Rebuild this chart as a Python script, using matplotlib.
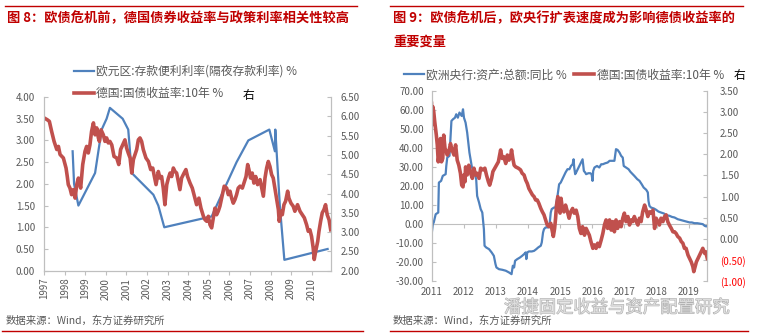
import matplotlib
matplotlib.use("Agg")
import matplotlib.pyplot as plt
import matplotlib.patheffects as pe
from matplotlib.lines import Line2D
from matplotlib.ticker import FuncFormatter, MultipleLocator

plt.rcParams['font.family'] = ['Noto Sans CJK SC', 'DejaVu Sans']
plt.rcParams['axes.unicode_minus'] = False

# ---- figure 8 data (decimal years) ----
depo_t = [1998.39, 1998.46, 1998.67, 1999.48, 1999.80, 2000.04, 2000.20, 2000.82,
          2001.09, 2001.26, 2002.31, 2002.55, 2002.84, 2005.14, 2006.35, 2006.92,
          2007.94, 2008.21, 2008.23, 2008.45, 2008.67, 2010.77]
depo_v = [2.75, 2.00, 1.50, 2.25, 3.25, 3.50, 3.75, 3.50,
          3.25, 2.25, 1.75, 1.50, 1.00, 1.25, 2.50, 3.00,
          3.25, 2.75, 3.25, 1.50, 0.25, 0.50]

bund_t = [1997.00, 1997.16, 1997.26, 1997.37, 1997.49, 1997.62, 1997.70, 1997.78, 1997.94, 1998.07,
          1998.13, 1998.18, 1998.26, 1998.34, 1998.42, 1998.51, 1998.59, 1998.67, 1998.78, 1998.88,
          1998.99, 1999.07, 1999.15, 1999.23, 1999.31, 1999.40, 1999.48, 1999.56, 1999.64, 1999.69,
          1999.77, 1999.88, 1999.96, 2000.04, 2000.12, 2000.20, 2000.29, 2000.40, 2000.53, 2000.63,
          2000.72, 2000.82, 2000.93, 2001.01, 2001.09, 2001.18, 2001.26, 2001.34, 2001.42, 2001.50,
          2001.58, 2001.66, 2001.74, 2001.82, 2001.95, 2002.07, 2002.18, 2002.28, 2002.34, 2002.44,
          2002.55, 2002.63, 2002.71, 2002.79, 2002.87, 2002.96, 2003.04, 2003.12, 2003.20, 2003.28,
          2003.36, 2003.44, 2003.52, 2003.60, 2003.68, 2003.80, 2003.89, 2003.97, 2004.09, 2004.20,
          2004.33, 2004.41, 2004.52, 2004.62, 2004.74, 2004.82, 2004.90, 2004.98, 2005.06, 2005.14,
          2005.22, 2005.30, 2005.38, 2005.46, 2005.54, 2005.66, 2005.75, 2005.87, 2005.95, 2006.03,
          2006.11, 2006.19, 2006.27, 2006.35, 2006.43, 2006.52, 2006.63, 2006.73, 2006.81, 2006.89,
          2006.95, 2007.03, 2007.11, 2007.19, 2007.28, 2007.37, 2007.49, 2007.57, 2007.65, 2007.73,
          2007.81, 2007.89, 2007.97, 2008.05, 2008.13, 2008.21, 2008.29, 2008.38, 2008.42, 2008.51,
          2008.57, 2008.65, 2008.73, 2008.83, 2008.89, 2008.99, 2009.10, 2009.18, 2009.31, 2009.43,
          2009.54, 2009.64, 2009.75, 2009.83, 2009.91, 2009.99, 2010.07, 2010.12, 2010.19, 2010.29,
          2010.35, 2010.43, 2010.51, 2010.59, 2010.67, 2010.75, 2010.84, 2010.92]
bund_v = [5.96, 5.91, 5.87, 5.61, 5.35, 5.14, 5.22, 5.01, 4.92, 4.66,
          4.44, 4.23, 4.14, 3.97, 4.10, 3.88, 4.23, 4.40, 4.14, 4.75,
          5.09, 5.22, 5.05, 5.26, 5.61, 5.83, 5.52, 5.70, 5.44, 5.35,
          5.65, 5.52, 5.35, 5.44, 5.31, 5.35, 5.26, 4.96, 4.92, 4.75,
          5.14, 5.26, 5.39, 5.18, 5.05, 4.92, 4.53, 4.88, 5.01, 5.14,
          5.39, 5.44, 5.35, 5.14, 4.92, 4.83, 4.62, 4.66, 4.49, 4.23,
          4.57, 4.40, 4.44, 4.14, 3.71, 4.23, 4.40, 4.53, 4.44, 4.66,
          4.57, 4.53, 4.31, 4.10, 4.40, 4.53, 4.62, 4.44, 4.27, 4.14,
          3.88, 3.71, 3.88, 3.62, 3.41, 3.32, 3.28, 3.41, 3.19, 3.11,
          3.37, 3.62, 3.45, 3.54, 3.67, 3.97, 4.19, 4.14, 3.97, 4.06,
          3.88, 3.75, 3.84, 3.97, 4.14, 4.19, 4.14, 4.31, 4.44, 4.75,
          4.62, 4.40, 4.53, 4.27, 4.44, 4.23, 4.36, 4.14, 3.93, 4.40,
          4.66, 4.83, 4.70, 4.49, 4.40, 4.14, 3.88, 3.58, 3.28, 3.54,
          3.45, 3.71, 3.80, 4.06, 3.88, 3.75, 3.67, 3.54, 3.71, 3.54,
          3.45, 3.37, 3.19, 3.02, 3.06, 2.89, 2.59, 2.29, 2.50, 2.76,
          3.02, 3.28, 3.50, 3.58, 3.71, 3.45, 3.32, 3.06]

years_8 = list(range(1997, 2011))

# ---- figure 9 data ----
ecb_t = [2011.00, 2011.04, 2011.07, 2011.13, 2011.21, 2011.23, 2011.30, 2011.35, 2011.44, 2011.46,
         2011.49, 2011.56, 2011.62, 2011.67, 2011.73, 2011.77, 2011.82, 2011.87, 2011.94, 2011.98,
         2012.01, 2012.06, 2012.11, 2012.18, 2012.25, 2012.29, 2012.35, 2012.39, 2012.42, 2012.48,
         2012.53, 2012.58, 2012.60, 2012.63, 2012.65, 2012.70, 2012.79, 2012.87, 2012.94, 2012.99,
         2013.02, 2013.10, 2013.20, 2013.31, 2013.41, 2013.49, 2013.53, 2013.57, 2013.60, 2013.67,
         2013.75, 2013.82, 2013.88, 2013.93, 2013.95, 2013.98, 2014.03, 2014.12, 2014.19, 2014.26,
         2014.32, 2014.40, 2014.43, 2014.47, 2014.50, 2014.55, 2014.63, 2014.68, 2014.71, 2014.74,
         2014.81, 2014.86, 2014.92, 2014.97, 2015.02, 2015.07, 2015.12, 2015.17, 2015.23, 2015.29,
         2015.34, 2015.39, 2015.42, 2015.44, 2015.47, 2015.50, 2015.55, 2015.60, 2015.65, 2015.70,
         2015.74, 2015.78, 2015.81, 2015.88, 2015.94, 2015.98, 2016.01, 2016.03, 2016.07, 2016.15,
         2016.22, 2016.28, 2016.33, 2016.40, 2016.48, 2016.54, 2016.64, 2016.69, 2016.74, 2016.79,
         2016.85, 2016.90, 2016.95, 2016.98, 2017.05, 2017.13, 2017.19, 2017.26, 2017.31, 2017.40,
         2017.47, 2017.54, 2017.60, 2017.68, 2017.73, 2017.75, 2017.78, 2017.83, 2017.92, 2017.99,
         2018.06, 2018.14, 2018.23, 2018.30, 2018.40, 2018.48, 2018.56, 2018.66, 2018.77, 2018.87,
         2018.96, 2019.03, 2019.10, 2019.18, 2019.27, 2019.34, 2019.44, 2019.50, 2019.55, 2019.58]
ecb_v = [-6.1, 0.0, 0.9, 5.2, 6.1, 21.8, 22.7, 25.3, 26.2, 30.5,
         34.9, 35.8, 54.1, 55.0, 55.8, 57.6, 55.8, 58.5, 56.7, 60.2,
         55.8, 53.2, 48.0, 37.5, 30.5, 27.9, 26.2, 23.6, 14.8, 11.3,
         7.9, 6.1, 2.6, -2.6, -11.3, -12.2, -13.1, -14.8, -16.6, -20.9,
         -22.7, -23.6, -23.9, -24.4, -25.3, -26.2, -21.8, -22.7, -19.2, -18.3,
         -17.5, -16.6, -15.7, -14.8, -18.3, -14.8, -14.3, -14.3, -14.0, -13.1,
         -12.2, -11.3, -9.6, -4.4, -2.6, -1.7, -1.7, 0.9, 6.1, 7.9,
         8.7, 8.7, 14.8, 20.9, 21.8, 23.6, 25.3, 27.1, 28.8, 28.8,
         30.5, 31.4, 34.0, 29.7, 26.2, 27.1, 28.8, 30.5, 32.3, 34.0,
         27.9, 27.1, 26.2, 26.7, 26.7, 26.2, 22.7, 27.9, 29.7, 30.5,
         29.7, 31.4, 31.4, 31.9, 32.3, 33.2, 33.2, 33.2, 39.3, 38.9,
         37.5, 35.8, 34.9, 30.5, 29.7, 28.8, 27.4, 26.2, 25.3, 23.6,
         22.7, 20.9, 19.2, 18.0, 16.6, 12.2, 9.6, 8.7, 8.2, 7.5,
         6.6, 6.1, 5.6, 4.7, 4.4, 3.8, 3.5, 2.6, 2.1, 1.7,
         1.2, 0.9, 0.9, 0.5, 0.5, 0.3, 0.0, -0.9, -1.2, -0.9]

bund9_t = [2011.00, 2011.02, 2011.04, 2011.07, 2011.10, 2011.15, 2011.18, 2011.21, 2011.25, 2011.28,
           2011.31, 2011.35, 2011.38, 2011.42, 2011.46, 2011.49, 2011.54, 2011.59, 2011.64, 2011.70,
           2011.75, 2011.80, 2011.85, 2011.90, 2011.94, 2011.98, 2012.01, 2012.04, 2012.06, 2012.11,
           2012.16, 2012.22, 2012.27, 2012.32, 2012.37, 2012.42, 2012.48, 2012.53, 2012.60, 2012.66,
           2012.71, 2012.77, 2012.81, 2012.87, 2012.91, 2012.97, 2013.02, 2013.08, 2013.12, 2013.15,
           2013.20, 2013.25, 2013.31, 2013.36, 2013.41, 2013.46, 2013.49, 2013.53, 2013.57, 2013.62,
           2013.70, 2013.77, 2013.82, 2013.88, 2013.93, 2013.98, 2014.03, 2014.08, 2014.14, 2014.19,
           2014.24, 2014.29, 2014.34, 2014.40, 2014.45, 2014.50, 2014.55, 2014.60, 2014.66, 2014.71,
           2014.76, 2014.79, 2014.83, 2014.86, 2014.89, 2014.93, 2014.97, 2015.00, 2015.03, 2015.07,
           2015.12, 2015.17, 2015.23, 2015.28, 2015.33, 2015.39, 2015.44, 2015.50, 2015.55, 2015.60,
           2015.65, 2015.70, 2015.76, 2015.81, 2015.86, 2015.91, 2015.96, 2016.02, 2016.07, 2016.12,
           2016.17, 2016.22, 2016.28, 2016.33, 2016.38, 2016.43, 2016.48, 2016.54, 2016.59, 2016.64,
           2016.69, 2016.74, 2016.79, 2016.85, 2016.90, 2016.95, 2017.00, 2017.05, 2017.11, 2017.16,
           2017.21, 2017.26, 2017.31, 2017.37, 2017.42, 2017.47, 2017.52, 2017.57, 2017.63, 2017.68,
           2017.73, 2017.78, 2017.83, 2017.89, 2017.94, 2017.99, 2018.04, 2018.09, 2018.14, 2018.20,
           2018.25, 2018.30, 2018.35, 2018.40, 2018.46, 2018.51, 2018.56, 2018.61, 2018.66, 2018.72,
           2018.77, 2018.82, 2018.87, 2018.92, 2018.98, 2019.03, 2019.08, 2019.13, 2019.16, 2019.20,
           2019.24, 2019.29, 2019.34, 2019.39, 2019.44, 2019.50, 2019.53, 2019.58]
bund9_v = [3.20, 2.69, 3.12, 3.00, 2.77, 2.45, 2.22, 1.82, 2.06, 2.37,
           1.82, 1.90, 2.45, 2.14, 2.06, 1.98, 2.06, 2.25, 2.10, 1.98,
           2.22, 1.86, 1.74, 1.55, 1.27, 1.23, 1.51, 1.35, 1.70, 1.51,
           1.74, 1.55, 1.43, 1.67, 1.51, 1.55, 1.43, 1.67, 1.63, 1.67,
           1.51, 1.35, 1.27, 1.43, 1.59, 1.67, 1.74, 1.82, 1.98, 2.10,
           1.90, 1.94, 1.78, 1.98, 1.86, 1.94, 2.10, 1.90, 1.74, 1.70,
           1.67, 1.63, 1.55, 1.51, 1.39, 1.31, 1.19, 1.12, 1.04, 1.00,
           0.92, 0.92, 0.84, 0.72, 0.64, 0.57, 0.45, 0.33, 0.29, 0.37,
           0.17, 0.06, 0.25, 0.49, 0.80, 1.00, 0.72, 0.61, 0.96, 0.72,
           0.64, 0.80, 0.64, 0.49, 0.64, 0.72, 0.61, 0.68, 0.53, 0.25,
           0.13, 0.29, 0.09, 0.25, 0.17, 0.09, -0.06, -0.22, -0.14, -0.22,
           -0.10, -0.18, -0.02, 0.13, 0.33, 0.45, 0.25, 0.45, 0.21, 0.41,
           0.17, 0.45, 0.25, 0.41, 0.29, 0.49, 0.61, 0.41, 0.53, 0.33,
           0.45, 0.41, 0.53, 0.41, 0.33, 0.49, 0.41, 0.64, 0.80, 0.68,
           0.53, 0.64, 0.61, 0.68, 0.25, 0.49, 0.41, 0.33, 0.49, 0.41,
           0.53, 0.57, 0.41, 0.33, 0.25, 0.17, 0.17, 0.13, 0.06, 0.02,
           -0.06, -0.10, -0.22, -0.22, -0.38, -0.46, -0.54, -0.65, -0.77, -0.65,
           -0.54, -0.46, -0.38, -0.30, -0.22, -0.34, -0.30, -0.46]

years_9 = list(range(2011, 2020))

# ---- style ----
BLUE = '#4F81BD'
RED = '#C0504D'
TITLE_RED = '#C00000'
GREY = '#595959'
AXIS = '#BFBFBF'
W, H = 759, 336


def fx(x):
    return x / W


def fy(y):
    return 1 - y / H


def style_axes(ax):
    ax.spines['top'].set_visible(False)
    for side in ['left', 'right', 'bottom']:
        ax.spines[side].set_color(AXIS)
        ax.spines[side].set_linewidth(0.8)
    ax.tick_params(colors=AXIS, labelcolor=GREY, labelsize=7)


fig = plt.figure(figsize=(W / 100, H / 100), dpi=100)

# frame lines and titles
for x0, x1, y in [(5, 357, 6), (390, 743, 6), (2, 363, 331), (390, 748, 331)]:
    fig.add_artist(Line2D([fx(x0), fx(x1)], [fy(y), fy(y)], color=TITLE_RED, lw=1.0))

fig.text(fx(7), fy(18.5), '图 8：欧债危机前，德国债券收益率与政策利率相关性较高',
         color=TITLE_RED, fontsize=9.5, fontweight='bold', va='center')
fig.text(fx(393), fy(18.5), '图 9：欧债危机后，欧央行扩表速度成为影响德债收益率的',
         color=TITLE_RED, fontsize=9.5, fontweight='bold', va='center')
fig.text(fx(393), fy(42), '重要变量',
         color=TITLE_RED, fontsize=9.5, fontweight='bold', va='center')

# ======================= figure 8 =======================
ax1 = fig.add_axes([fx(44), fy(270.7), (330.7 - 44) / W, (270.7 - 97) / H])
ax2 = ax1.twinx()
b1, = ax1.plot(depo_t, depo_v, color=BLUE, lw=1.6)
r1, = ax2.plot(bund_t, bund_v, color=RED, lw=2.6)

ax1.set_xlim(1997, 2010.92)
ax1.set_ylim(0, 4)
ax2.set_ylim(2, 6.5)
ax1.yaxis.set_major_locator(MultipleLocator(0.5))
ax2.yaxis.set_major_locator(MultipleLocator(0.5))
ax1.yaxis.set_major_formatter(FuncFormatter(lambda v, p: f'{v:.2f}'))
ax2.yaxis.set_major_formatter(FuncFormatter(lambda v, p: f'{v:.2f}'))
ax1.set_xticks(years_8)
ax1.set_xticklabels([str(y) for y in years_8], rotation=90)

for ax in (ax1, ax2):
    style_axes(ax)
ax1.tick_params(axis='y', direction='in', length=3, pad=6.5)
ax2.tick_params(axis='y', direction='in', length=3, pad=7)
ax1.tick_params(axis='x', direction='out', length=3, pad=2)

leg1 = ax2.legend(handles=[b1, r1],
                  labels=['欧元区:存款便利利率(隔夜存款利率) %', '德国:国债收益率:10年 %'],
                  loc='upper left', bbox_to_anchor=(fx(74), fy(65)),
                  bbox_transform=fig.transFigure, frameon=False, fontsize=8.5,
                  handlelength=1.7, handletextpad=0.2, labelspacing=0.75,
                  borderpad=0, borderaxespad=0)
for t in leg1.get_texts():
    t.set_color(GREY)
fig.text(fx(243), fy(95), '右', fontsize=8.5, color='black', va='center')

# ======================= figure 9 =======================
ax3 = fig.add_axes([fx(431.5), fy(281.4), (707.3 - 431.5) / W, (281.4 - 90.6) / H])
ax4 = ax3.twinx()
b2, = ax3.plot(ecb_t, ecb_v, color=BLUE, lw=1.6)
r2, = ax4.plot(bund9_t, bund9_v, color=RED, lw=2.6)

ax3.set_xlim(2011, 2019.58)
ax3.set_ylim(-30, 70)
ax4.set_ylim(-1.0, 3.5)
ax3.yaxis.set_major_locator(MultipleLocator(10))
ax4.yaxis.set_major_locator(MultipleLocator(0.5))
ax3.yaxis.set_major_formatter(FuncFormatter(lambda v, p: f'{v:.2f}'))
ax4.yaxis.set_major_formatter(
    FuncFormatter(lambda v, p: f'({abs(v):.2f})' if v < -1e-9 else f'{v:.2f}'))
ax3.set_xticks(years_9)
ax3.set_xticklabels([str(y) for y in years_9])

for ax in (ax3, ax4):
    style_axes(ax)
    ax.spines['bottom'].set_visible(False)
ax3.tick_params(axis='y', direction='in', length=3, pad=5.5)
ax4.tick_params(axis='y', direction='in', length=3, pad=9)
ax3.tick_params(axis='x', length=0, pad=4)

fig.canvas.draw()
for lab in ax4.get_yticklabels():
    if lab.get_text().startswith('('):
        lab.set_color('#FF0000')

# zero line with year ticks
zero = ax3.secondary_xaxis(30 / 100)
zero.set_xticks(years_9)
zero.tick_params(direction='out', length=3, colors=AXIS, labelbottom=False)
zero.spines['bottom'].set_color(AXIS)
zero.spines['bottom'].set_linewidth(0.8)

leg2 = ax4.legend(handles=[b2, r2],
                  labels=['欧洲央行:资产:总额:同比 %', '德国:国债收益率:10年 %'],
                  loc='center left', bbox_to_anchor=(fx(404), fy(75)),
                  bbox_transform=fig.transFigure, frameon=False, fontsize=8.5, ncol=2,
                  handlelength=1.7, handletextpad=0.2, columnspacing=0.6,
                  borderpad=0, borderaxespad=0)
for t in leg2.get_texts():
    t.set_color(GREY)
fig.text(fx(734), fy(75), '右', fontsize=8.5, color='black', va='center')

# sources and watermark
src = '数据来源：Wind，东方证券研究所'
fig.text(fx(6), fy(320.5), src, fontsize=7.5, color=GREY, va='center')
fig.text(fx(393), fy(320.5), src, fontsize=7.5, color=GREY, va='center')
fig.text(fx(504), fy(307.5), '潘捷固定收益与资产配置研究', fontsize=12.5, color='#e2e2e2',
         va='center', alpha=0.9,
         path_effects=[pe.withStroke(linewidth=0.8, foreground='#a8a8a8')])

fig.savefig('out.png', dpi=100)
